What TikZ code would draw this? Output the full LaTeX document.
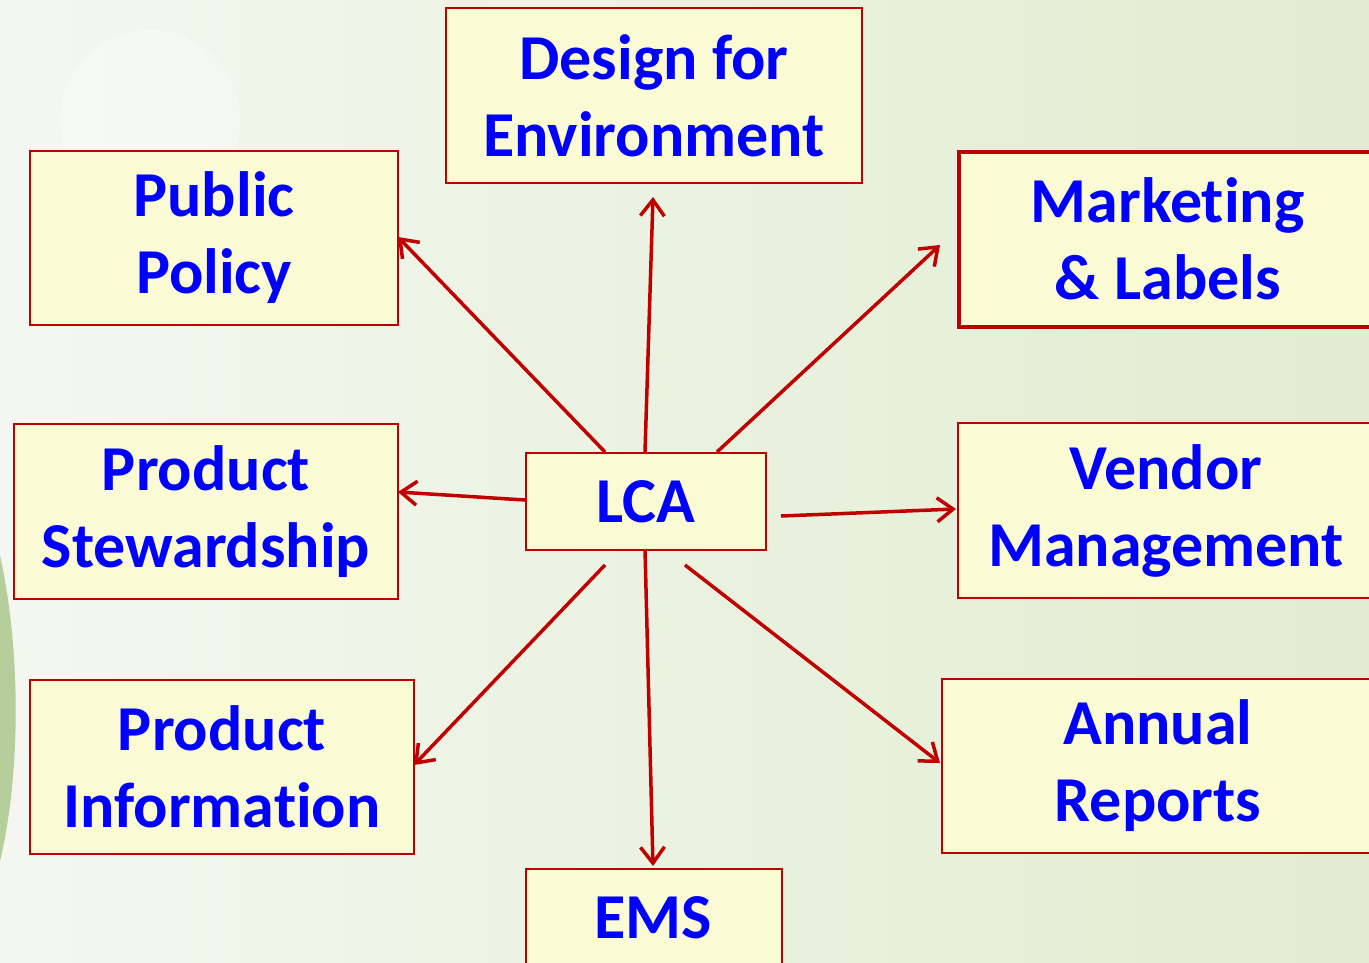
\documentclass[tikz,border=0pt]{standalone}
\usepackage{fontspec}
\setmainfont{Carlito}[RawFeature={-liga}]
\usetikzlibrary{arrows.meta}
\definecolor{boxred}{RGB}{192,0,0}
\definecolor{boxfill}{RGB}{250,250,212}
\definecolor{txtblue}{RGB}{0,0,255}
\definecolor{bgleft}{RGB}{244,247,240}
\definecolor{bgright}{RGB}{224,237,208}
\definecolor{leafgreen}{RGB}{140,180,100}
\begin{document}
\begin{tikzpicture}[x=1pt,y=-1pt,
  box/.style={draw=boxred,line width=2pt,fill=boxfill,anchor=north west,inner sep=0pt,
    text=txtblue,font=\fontsize{64}{77}\selectfont\bfseries,align=center},
  conn/.style={draw=boxred,line width=3.5pt,-{Straight Barb[length=16pt,width=24pt,line width=3.5pt]}}]
\useasboundingbox (0,0) rectangle (1369,962);
\clip (0,0) rectangle (1369,962);
\shade[left color=bgleft,right color=bgright] (0,0) rectangle (1369,962);
\fill[white,opacity=0.35] (150,120) circle (90);
\fill[leafgreen,opacity=0.6] (-30,470) .. controls (20,560) and (30,760) .. (-5,880) -- (-30,880) -- cycle;
% boxes
\node[box,minimum width=416pt,minimum height=175pt] (dfe) at (445,7) {Design for\\Environment};
\node[box,minimum width=368pt,minimum height=174pt] (pp) at (29,150) {Public\\Policy};
\node[box,minimum width=418pt,minimum height=175pt,line width=3.5pt] (ml) at (957,150) {Marketing\\\& Labels};
\node[box,minimum width=384pt,minimum height=175pt] (ps) at (13,423) {Product\\Stewardship};
\node[box,minimum width=240pt,minimum height=97pt] (lca) at (525,452) {LCA};
\node[box,minimum width=416pt,minimum height=175pt] (vm) at (957,422) {Vendor\\Management};
\node[box,minimum width=384pt,minimum height=174pt] (pi) at (29,679) {Product\\Information};
\node[box,minimum width=432pt,minimum height=174pt] (ar) at (941,678) {Annual\\Reports};
\node[box,minimum width=256pt,minimum height=120pt] (ems) at (525,868) {};
\node[text=txtblue,font=\fontsize{64}{77}\selectfont\bfseries] (emstext) at (653,918) {EMS};
% connector end points
\coordinate (a1) at (645,452); \coordinate (t1) at (653,197);
\coordinate (a2) at (605,452); \coordinate (t2) at (398,237);
\coordinate (a3) at (717,452); \coordinate (t3) at (940,245);
\coordinate (a4) at (525,500); \coordinate (t4) at (398,492);
\coordinate (a5) at (781,516); \coordinate (t5) at (956,509);
\coordinate (a6) at (605,565); \coordinate (t6) at (414,765);
\coordinate (a7) at (685,565); \coordinate (t7) at (940,763);
\coordinate (a8) at (645,549); \coordinate (t8) at (653,866);
\draw[conn] (a1) -- (t1);
\draw[conn] (a2) -- (t2);
\draw[conn] (a3) -- (t3);
\draw[conn] (a4) -- (t4);
\draw[conn] (a5) -- (t5);
\draw[conn] (a6) -- (t6);
\draw[conn] (a7) -- (t7);
\draw[conn] (a8) -- (t8);
\end{tikzpicture}
\end{document}
